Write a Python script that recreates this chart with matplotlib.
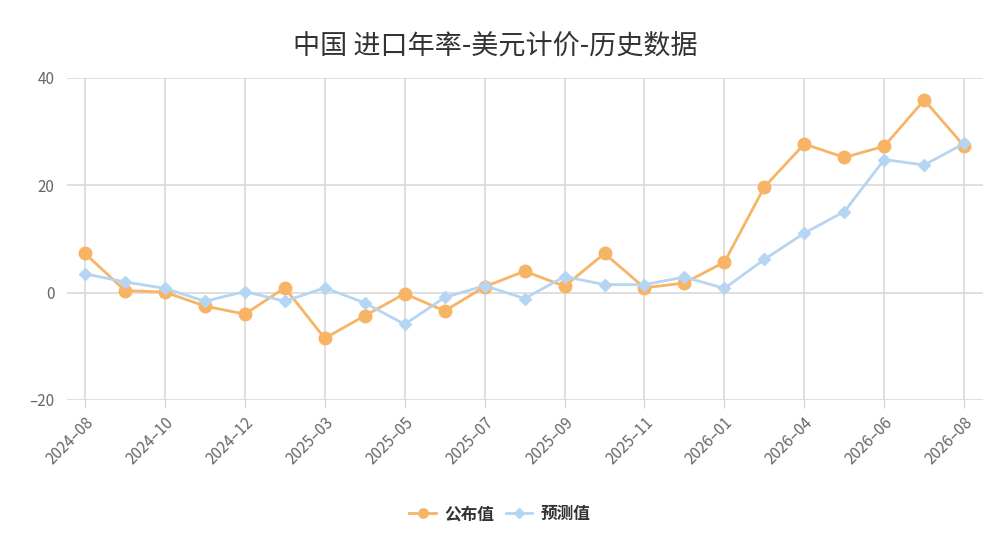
import matplotlib.pyplot as plt
import numpy as np

plt.rcParams['font.family'] = ['Noto Sans CJK SC', 'DejaVu Sans']
plt.rcParams['axes.unicode_minus'] = False

# release months (every other one labelled on the axis)
months = ['2024-08', '2024-09', '2024-10', '2024-11', '2024-12', '2025-01',
          '2025-03', '2025-04', '2025-05', '2025-06', '2025-07', '2025-08',
          '2025-09', '2025-10', '2025-11', '2025-12', '2026-01', '2026-03',
          '2026-04', '2026-05', '2026-06', '2026-07', '2026-08']

actual = [7.3, 0.4, 0.1, -2.5, -4.0, 0.9, -8.5, -4.3, -0.2, -3.4, 1.1, 4.0,
          1.2, 7.3, 0.9, 1.8, 5.7, 19.7, 27.7, 25.2, 27.3, 35.9, 27.3]
forecast = [3.5, 2.0, 0.8, -1.6, 0.2, -1.6, 0.9, -1.9, -5.9, -0.9, 1.3, -1.1,
            3.0, 1.5, 1.5, 2.9, 0.8, 6.2, 11.1, 15.1, 24.8, 23.8, 27.8]

yticks = [-20, 0, 20, 40]

orange = '#F8B465'
blue = '#B5D5F2'
grid_c = '#D9D9D9'

fig = plt.figure(figsize=(9.9, 5.46), dpi=100)
ax = fig.add_axes([67 / 990, 1 - 400 / 546, (983 - 67) / 990, (400 - 78) / 546])

x = np.arange(len(months))
ax.plot(x, actual, color=orange, linewidth=2, marker='o', markersize=9,
        label='公布值', zorder=3)
ax.plot(x, forecast, color=blue, linewidth=2, marker='D', markersize=6.5,
        label='预测值', zorder=3)

ax.set_ylim(-20, 40)
ax.set_xlim(-0.45, len(months) - 1 + 0.47)
ax.set_yticks(yticks)
ax.set_yticklabels([str(v).replace('-', '\u2013') for v in yticks])

lab_idx = x[::2]
ax.set_xticks(lab_idx)
ax.set_xticklabels([months[i].replace('-', '\u2013') for i in lab_idx],
                   rotation=45, ha='right', rotation_mode='anchor')

ax.grid(True, color=grid_c, linewidth=1.2, zorder=0)
ax.set_axisbelow(True)
for s in ax.spines.values():
    s.set_visible(False)

ax.tick_params(axis='y', length=0, pad=9, labelsize=11, labelcolor='#666666')
ax.tick_params(axis='x', length=6, color='#C8D3E0', pad=4, labelsize=11,
               labelcolor='#666666')

fig.suptitle('中国 进口年率-美元计价-历史数据', y=0.94, fontsize=19.5,
             color='#333333')

leg = fig.legend(loc='center', bbox_to_anchor=(0.505, 0.058), ncol=2,
                 frameon=False, handlelength=1.6, columnspacing=0.7,
                 handletextpad=0.5, markerscale=0.75,
                 prop={'weight': 'bold', 'size': 12})
for t in leg.get_texts():
    t.set_color('#333333')

fig.savefig('out.png', dpi=100)
